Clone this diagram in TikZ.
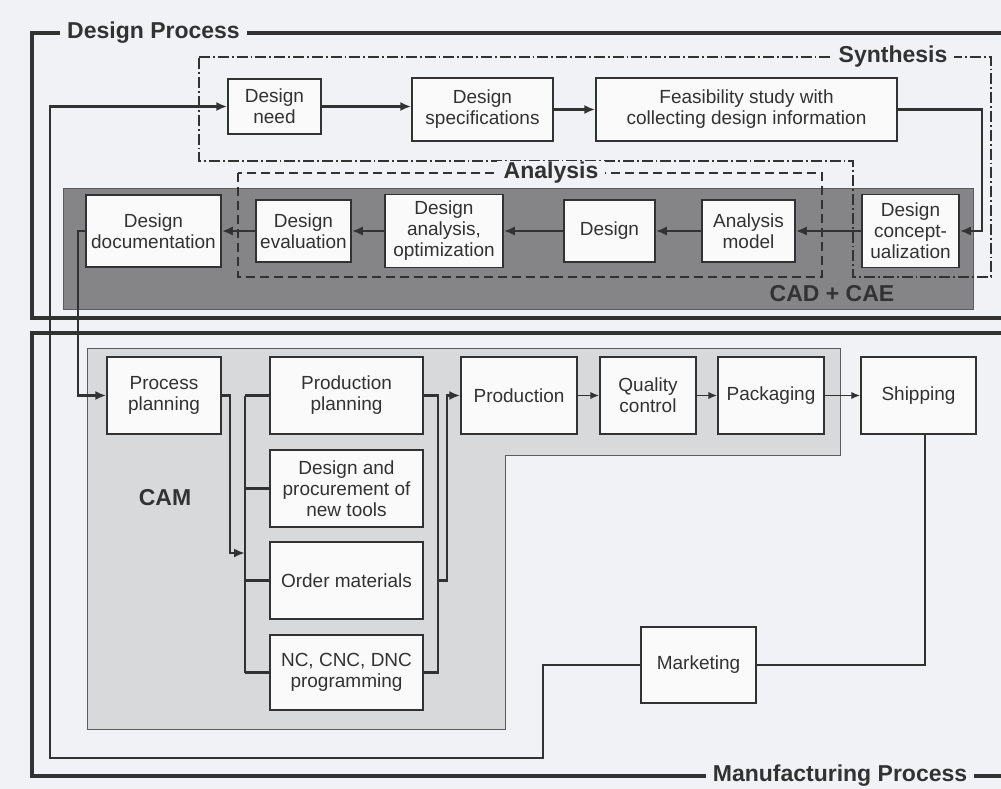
\documentclass[tikz,border=0pt]{standalone}
\usepackage{fontspec}
\setmainfont{Liberation Sans}
\usetikzlibrary{arrows.meta}
\definecolor{bgc}{RGB}{240,242,245}
\definecolor{ink}{RGB}{50,50,50}
\definecolor{cadc}{RGB}{133,133,136}
\definecolor{camc}{RGB}{216,217,219}
\definecolor{boxc}{RGB}{250,250,250}
\begin{document}
\begin{tikzpicture}[x=1pt,y=-1pt,
  blk/.style={draw=ink, line width=1.5pt, fill=boxc, text=ink,
    font=\fontsize{19}{21}\selectfont, align=center, inner sep=0pt},
  lbl/.style={font=\bfseries\fontsize{23}{26}\selectfont, text=ink,
    fill=bgc, inner xsep=7pt, inner ysep=1pt},
  frame/.style={draw=ink, line width=3.8pt},
  conn/.style={draw=ink, line width=2.4pt},
  arr/.style={conn, -{Latex[length=11pt,width=9pt]}},
  sarr/.style={draw=ink, line width=1.8pt, -{Latex[length=9pt,width=7.5pt]}},
  dashdot/.style={draw=ink, line width=1.4pt, dash pattern=on 11pt off 3pt on 1.8pt off 3pt},
  dashbox/.style={draw=ink, line width=1.5pt, dash pattern=on 9pt off 5pt}]

\useasboundingbox (0,0) rectangle (1001,789);
\clip (0,0) rectangle (1001,789);
\fill[bgc] (0,0) rectangle (1001,789);

% frames
\draw[frame] (1010,33) -- (32,33) -- (32,318) -- (1010,318);
\draw[frame] (1010,333) -- (32,333) -- (32,776) -- (1010,776);

% CAD + CAE band
\filldraw[fill=cadc, draw=ink!80, line width=1pt] (63,188) rectangle (973,309);
% CAM region
\filldraw[fill=camc, draw=ink!80, line width=1pt]
  (87,348) -- (840,348) -- (840,455) -- (505,455) -- (505,729) -- (87,729) -- cycle;

% Synthesis and Analysis regions
\draw[dashdot] (199,57) -- (991,57) -- (991,277) -- (853,277) -- (853,161) -- (199,161) -- cycle;
\draw[dashbox] (238,173) rectangle (822,277);

% labels
\node[lbl] (ldp) at (153.5,33) {Design Process};
\node[lbl] (lmp) at (840,776) {Manufacturing Process};
\node[lbl] (lsy) at (893,57) {Synthesis};
\node[lbl] (lan) at (551,173) {Analysis};
\node[font=\bfseries\fontsize{23}{26}\selectfont, text=ink] (lcad) at (832,294) {CAD + CAE};
\node[font=\bfseries\fontsize{23}{26}\selectfont, text=ink] (lcam) at (165,498) {CAM};

% top row
\node[blk, minimum width=93pt, minimum height=55pt] (need) at (274.5,106.5) {Design\\need};
\node[blk, minimum width=141pt, minimum height=63pt] (spec) at (482.5,109.5) {Design\\specifications};
\node[blk, minimum width=301pt, minimum height=63pt] (feas) at (746.5,109.5) {Feasibility study with\\collecting design information};

% design row
\node[blk, minimum width=135pt, minimum height=72pt] (doc) at (153.5,231) {Design\\documentation};
\node[blk, minimum width=95pt, minimum height=62pt] (eval) at (303.5,231) {Design\\evaluation};
\node[blk, minimum width=118pt, minimum height=73pt] (anal) at (444,231) {Design\\analysis,\\optimization};
\node[blk, minimum width=91pt, minimum height=62pt] (des) at (609.5,231) {Design};
\node[blk, minimum width=93pt, minimum height=62pt] (model) at (748.5,231) {Analysis\\model};
\node[blk, minimum width=97pt, minimum height=73pt] (conc) at (910.5,231) {Design\\concept-\\ualization};

% manufacturing
\node[blk, minimum width=114pt, minimum height=77pt] (pp) at (164,395.5) {Process\\planning};
\node[blk, minimum width=153pt, minimum height=77pt] (prodp) at (346.5,395.5) {Production\\planning};
\node[blk, minimum width=153pt, minimum height=77pt] (tools) at (346.5,488.5) {Design and\\procurement of\\new tools};
\node[blk, minimum width=153pt, minimum height=77pt] (order) at (346.5,580.5) {Order materials};
\node[blk, minimum width=153pt, minimum height=75pt] (nc) at (346.5,672.5) {NC, CNC, DNC\\programming};
\node[blk, minimum width=116pt, minimum height=77pt] (prod) at (519,395.5) {Production};
\node[blk, minimum width=96pt, minimum height=77pt] (qc) at (648,395.5) {Quality\\control};
\node[blk, minimum width=106pt, minimum height=77pt] (pack) at (771,395.5) {Packaging};
\node[blk, minimum width=115pt, minimum height=77pt] (ship) at (918.5,395.5) {Shipping};
\node[blk, minimum width=115pt, minimum height=76pt] (mkt) at (698.5,665) {Marketing};

% coordinates
\coordinate (fa) at (543,758);
\coordinate (fb) at (50,758);
\coordinate (fc) at (982,231);
\coordinate (dd) at (78,231);
\coordinate (b1) at (230,553);
\coordinate (lbt) at (245,395.5);
\coordinate (lbb) at (245,672.5);
\coordinate (rbt) at (438,395.5);
\coordinate (rbb) at (438,672.5);
\coordinate (ro) at (447,580.5);
\coordinate (sk) at (925,665);

% connectors
\draw[arr] (need.east) -- (need.east -| spec.west);
\draw[arr] (spec.east) -- (feas.west);
\draw[arr] (feas.east) -| (fc) -- (conc.east);
\draw[arr] (conc.west) -- (model.east);
\draw[arr] (model.west) -- (des.east);
\draw[arr] (des.west) -- (anal.east);
\draw[arr] (anal.west) -- (eval.east);
\draw[arr] (eval.west) -- (doc.east);
\draw[arr] (doc.west) -- (dd) |- (pp.west);
\draw[arr] (pp.east) -| (b1) -- (b1 -| lbt);
\draw[conn] (lbt) -- (lbb);
\draw[conn] (prodp.west) -- (lbt);
\draw[conn] (tools.west) -- (tools.west -| lbt);
\draw[conn] (order.west) -- (order.west -| lbt);
\draw[conn] (nc.west) -- (lbb);
\draw[conn] (prodp.east) -- (rbt) -- (rbb) -- (nc.east);
\draw[arr] (ro -| rbt) -- (ro) |- (prod.west);
\draw[sarr] (prod.east) -- (qc.west);
\draw[sarr] (qc.east) -- (pack.west);
\draw[sarr] (pack.east) -- (ship.west);
\draw[conn] (ship.south -| sk) -- (sk) -- (mkt.east);
\draw[arr] (mkt.west) -| (fa) -- (fb) |- (need.west);
\end{tikzpicture}
\end{document}
